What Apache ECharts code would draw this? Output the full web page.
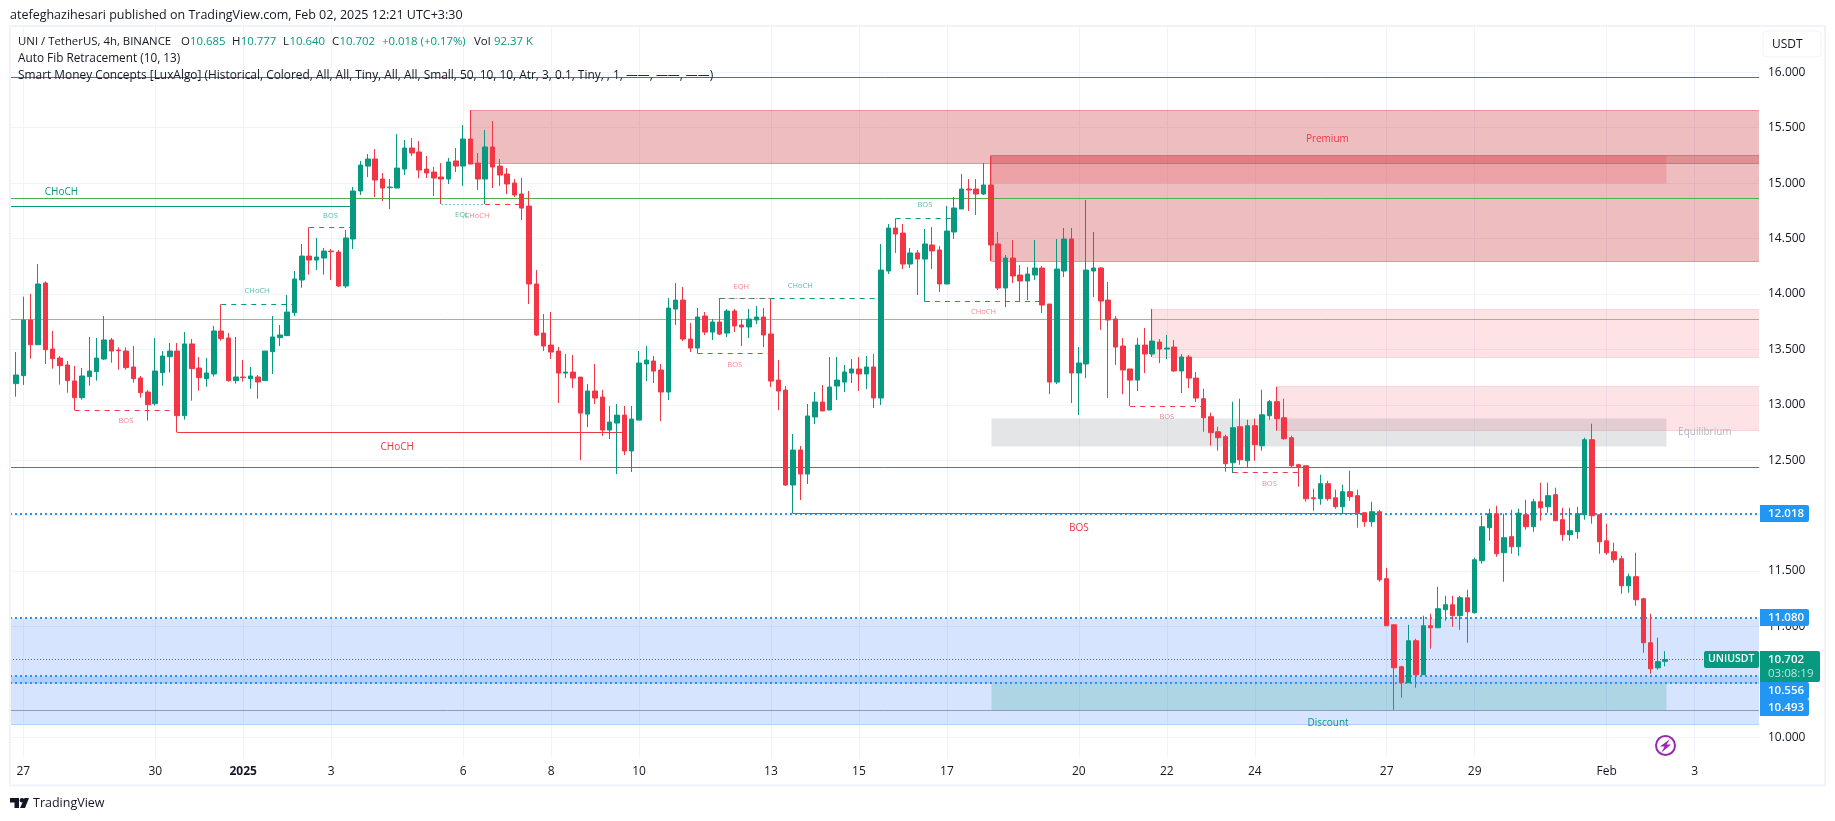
<!DOCTYPE html>
<html><head><meta charset="utf-8">
<style>html,body{margin:0;padding:0;background:#fff}#c{width:1835px;height:821px}</style>
<script src="https://cdn.jsdelivr.net/npm/echarts@6/dist/echarts.min.js"></script>
</head><body><div id="c"></div>
<script>
// Candle slot of the first candle (slot 0 = 27 Dec 00:00, 6 slots per day)
const firstSlot = -2;
const opens = [
12.893,13.191,13.263,13.765,13.542,14.099,13.503,13.422,13.359,13.215,
13.064,13.254,13.299,13.413,13.585,13.494,13.485,13.341,13.242,13.115,
13.010,13.290,13.434,13.485,12.902,13.549,13.332,13.236,13.278,13.666,
13.603,13.218,13.251,13.236,13.251,13.218,13.479,13.606,13.624,13.831,
14.126,14.342,14.306,14.324,14.387,14.378,14.072,14.496,14.929,15.154,
15.218,15.037,14.959,14.956,15.127,15.317,15.281,15.127,15.100,15.055,
15.037,15.200,15.154,15.398,15.181,15.037,15.326,15.154,15.082,15.001,
14.902,14.793,14.090,13.647,13.539,13.485,13.286,13.295,13.250,12.916,
13.124,13.070,12.772,12.835,12.907,12.583,12.862,13.368,13.395,13.314,
13.115,13.864,13.945,13.593,13.512,13.801,13.656,13.747,13.647,13.846,
13.720,13.702,13.765,13.792,13.639,13.223,13.133,12.276,12.592,12.375,
12.890,13.025,12.953,13.169,13.205,13.287,13.323,13.278,13.341,13.061,
14.207,14.595,14.550,14.270,14.370,14.315,14.442,14.397,14.090,14.559,
14.767,14.947,14.947,14.902,14.983,14.451,14.054,14.324,14.171,14.117,
14.171,14.234,13.909,13.205,14.207,14.496,13.287,13.368,14.207,14.234,
13.945,13.774,13.530,13.323,13.223,13.539,13.458,13.566,13.503,13.521,
13.305,13.431,13.241,13.055,12.892,12.757,12.712,12.477,12.802,12.495,
12.811,12.631,12.901,13.028,12.883,12.703,12.459,12.450,12.161,12.152,
12.288,12.161,12.080,12.216,12.180,12.026,11.945,12.035,11.431,11.015,
10.636,10.492,10.871,10.564,11.006,10.988,11.151,11.196,11.097,11.259,
11.124,11.593,11.891,12.017,11.665,11.810,11.719,12.008,11.900,12.125,
12.080,12.189,11.963,11.828,11.855,12.008,12.685,12.008,11.773,11.674,
11.611,11.367,11.449,11.250,10.853,10.627,10.685];
const closes = [
13.194,13.269,13.765,13.542,14.090,13.497,13.416,13.353,13.218,13.064,
13.260,13.305,13.422,13.585,13.485,13.488,13.335,13.236,13.109,13.001,
13.305,13.440,13.485,12.902,13.549,13.326,13.245,13.287,13.666,13.597,
13.218,13.251,13.245,13.260,13.206,13.485,13.612,13.630,13.837,14.135,
14.342,14.306,14.333,14.387,14.381,14.072,14.505,14.929,15.163,15.218,
15.028,14.956,14.965,15.136,15.317,15.272,15.118,15.091,15.046,15.037,
15.191,15.154,15.398,15.172,15.037,15.326,15.145,15.073,14.992,14.893,
14.775,14.090,13.629,13.530,13.476,13.286,13.295,13.241,12.925,13.124,
13.061,12.772,12.844,12.907,12.583,12.871,13.377,13.404,13.304,13.115,
13.873,13.945,13.593,13.512,13.792,13.656,13.747,13.638,13.846,13.711,
13.702,13.774,13.792,13.630,13.214,13.124,12.276,12.592,12.375,12.899,
13.025,12.944,13.160,13.223,13.296,13.323,13.278,13.341,13.061,14.216,
14.595,14.541,14.270,14.370,14.315,14.451,14.388,14.090,14.568,14.776,
14.947,14.938,14.902,14.983,14.442,14.054,14.324,14.162,14.117,14.180,
14.234,13.900,13.205,14.225,14.496,13.287,13.377,14.216,14.234,13.936,
13.765,13.521,13.314,13.223,13.539,13.458,13.575,13.503,13.512,13.305,
13.431,13.241,13.061,12.883,12.748,12.703,12.468,12.793,12.504,12.811,
12.640,12.910,13.028,12.874,12.694,12.450,12.441,12.152,12.152,12.288,
12.152,12.080,12.216,12.171,12.026,11.945,12.035,11.421,11.006,10.627,
10.492,10.871,10.564,11.006,10.988,11.160,11.196,11.097,11.259,11.133,
11.602,11.900,12.017,11.656,11.801,11.719,12.023,11.900,12.125,12.071,
12.180,11.954,11.828,11.864,12.017,12.685,11.999,11.764,11.665,11.602,
11.367,11.449,11.241,10.853,10.618,10.682,10.702];
const lows = [
12.893,13.073,13.179,13.416,13.542,13.368,13.326,13.182,13.109,12.953,
13.046,13.172,13.218,13.404,13.380,13.317,13.317,13.200,13.064,12.857,
12.992,13.172,13.290,12.751,12.866,13.037,13.127,13.163,13.254,13.579,
13.209,13.191,13.209,13.145,13.055,13.218,13.278,13.530,13.621,13.801,
14.056,14.174,14.216,14.174,14.126,14.062,14.053,14.405,14.893,15.055,
14.875,14.839,14.766,14.956,15.073,15.245,15.046,15.046,14.884,14.812,
14.992,15.100,14.974,15.172,14.938,14.812,14.956,14.974,14.902,14.875,
14.667,13.909,13.620,13.485,13.413,13.016,13.241,13.151,12.501,12.799,
13.007,12.718,12.691,12.375,12.546,12.393,12.862,13.214,13.196,12.853,
13.043,13.720,13.575,13.476,13.464,13.629,13.584,13.629,13.611,13.656,
13.530,13.602,13.729,13.521,13.160,12.953,12.267,12.020,12.141,12.285,
12.826,12.944,12.953,13.043,13.115,13.196,13.124,13.142,12.971,12.998,
14.180,14.370,14.225,14.234,13.991,13.930,14.225,14.018,14.090,14.496,
14.767,14.749,14.712,14.893,14.297,14.036,13.882,14.099,13.927,13.945,
14.126,13.828,13.097,13.187,14.153,13.016,12.908,13.241,13.972,13.675,
13.061,13.359,13.097,12.989,13.124,13.287,13.431,13.377,13.413,13.296,
13.106,13.151,13.025,12.757,12.631,12.586,12.396,12.384,12.459,12.432,
12.495,12.586,12.865,12.766,12.685,12.432,12.261,12.125,12.044,12.098,
12.134,12.062,12.017,12.134,11.891,11.900,11.900,11.403,11.006,10.248,
10.357,10.492,10.447,10.564,10.799,10.988,11.052,10.997,10.970,10.853,
11.115,11.566,11.773,11.629,11.403,11.656,11.638,11.873,11.855,11.954,
12.026,11.954,11.773,11.773,11.791,11.963,11.927,11.656,11.647,11.575,
11.295,11.304,11.187,10.763,10.573,10.609,10.640];
const highs = [
13.194,13.476,13.976,14.000,14.270,14.114,13.666,13.440,13.395,13.350,
13.332,13.612,13.603,13.801,13.603,13.518,13.518,13.530,13.260,13.133,
13.603,13.485,13.558,13.558,13.657,13.594,13.431,13.422,13.711,13.906,
13.648,13.612,13.404,13.341,13.269,13.485,13.801,13.720,13.991,14.207,
14.451,14.601,14.505,14.414,14.405,14.396,14.577,14.965,15.200,15.263,
15.308,15.091,15.037,15.443,15.389,15.407,15.380,15.245,15.145,15.181,
15.227,15.317,15.524,15.660,15.272,15.479,15.560,15.218,15.136,15.037,
15.046,14.929,14.216,13.819,13.837,13.521,13.458,13.449,13.250,13.187,
13.368,13.133,12.989,13.007,12.989,12.989,13.485,13.530,13.440,13.368,
13.963,14.099,14.063,13.738,13.873,13.837,13.774,13.963,13.864,13.864,
13.774,13.864,13.891,13.873,13.954,13.404,13.169,12.736,12.628,13.007,
13.115,13.178,13.431,13.431,13.359,13.413,13.431,13.440,13.458,14.451,
14.631,14.682,14.631,14.415,14.397,14.586,14.604,14.433,14.794,14.875,
15.082,15.037,15.037,15.182,15.250,14.559,14.351,14.487,14.261,14.243,
14.487,14.252,13.909,14.496,14.595,14.595,13.521,14.848,14.559,14.243,
14.108,13.801,13.602,13.323,13.602,13.693,13.864,13.593,13.630,13.584,
13.458,13.449,13.296,13.145,12.929,12.802,12.730,13.028,13.055,12.865,
12.874,13.136,13.043,13.163,13.055,12.721,12.468,12.450,12.243,12.369,
12.315,12.234,12.279,12.405,12.234,12.026,12.125,12.053,11.530,11.015,
10.645,11.015,10.889,11.097,11.115,11.358,11.277,11.277,11.277,11.331,
11.620,11.999,12.062,12.089,12.017,12.053,12.062,12.143,12.152,12.297,
12.297,12.252,12.071,12.071,12.080,12.703,12.829,12.008,11.927,11.755,
11.638,11.476,11.665,11.259,11.115,10.898,10.777];

// Axes
const priceTicks = [10,10.5,11,11.5,12,12.5,13,13.5,14,14.5,15,15.5,16];
const timeTickSlots = [0,18,30,42,60,72,84,102,114,126,144,156,168,186,198,216,228];
const timeTickLabels = ['27','30','2025','3','6','8','10','13','15','17','20','22','24','27','29','Feb','3'];
const slotMin = -1.8145, slotMax = 236.79, priceMin = 9.8175, priceMax = 16.4178;

// Zones: [fromSlot, toSlot, topPrice, bottomPrice]
const premiumZones = [[61,slotMax,15.66,15.179],[132,slotMax,15.25,14.30]];
const orderBlockZones = [[132,224.1,15.25,15.0]];
const lightSupplyZones = [[154,slotMax,13.864,13.434],[171,slotMax,13.17,12.77]];
const equilibriumZones = [[132,224.1,12.881,12.628]];
const fibBlueZones = [[slotMin,slotMax,11.08,10.12],[slotMin,slotMax,10.556,10.493]];
const discountZones = [[132,224.1,10.493,10.25]];

// Horizontal levels: [fromSlot, toSlot, price]
const tealFibLevels = [[slotMin,slotMax,15.955]];
const greenFibLevels = [[slotMin,slotMax,14.863]];
const lightGreenFibLevels = [[slotMin,slotMax,13.777]];
const redFibLevels = [[slotMin,slotMax,12.435]];
const discountEdgeLevels = [[slotMin,slotMax,10.25]];
const blueEdgeLevels = [[slotMin,slotMax,10.12]];
const blueDottedLevels = [[slotMin,slotMax,12.018],[slotMin,slotMax,11.08],[slotMin,slotMax,10.556],[slotMin,slotMax,10.493]];
const lastPriceLevels = [[slotMin,slotMax,10.702]];
const tealSolidBreaks = [[slotMin,45,14.79]];
const redSolidBreaks = [[21,82,12.752],[105,183,12.02]];
const redDashedBreaks = [[7,21,12.95],[63,68,14.81],[92,102,13.464],[123,139,13.934],[151,161,12.987],[165,175,12.39]];
const tealDashedBreaks = [[27,37,13.907],[39,45,14.60],[95,117,13.96],[119,127,14.683]];
const paleTealEqualLevels = [[57,63,14.815]];
const paleRedEqualLevels = [[95,102,13.965]];

// Text annotations
const bigRedTexts = ['CHoCH','BOS','Premium'];
const bigRedSpots = [[51,12.616],[144,11.891],[177.9,15.398]];
const bigTealTexts = ['CHoCH','Discount'];
const bigTealSpots = [[5.2,14.923],[178,10.129]];
const smallRedTexts = ['BOS','CHoCH','EQH','BOS','CHoCH','BOS','BOS'];
const smallRedSpots = [[14,12.851],[61.9,14.706],[97.95,14.060],[97.05,13.356],[131,13.835],[156,12.887],[170,12.283]];
const smallTealTexts = ['CHoCH','BOS','EQL','CHoCH','BOS'];
const smallTealSpots = [[31.9,14.024],[41.9,14.706],[59.85,14.715],[106,14.069],[123,14.800]];

// Price tags on the right
const tagPrices = [12.018,11.08,10.556,10.493];
const tagShifts = [0,0,15,24.7];
const lastPrice = 10.702, lastCountdown = '03:08:19', symbolName = 'UNIUSDT';

const FONT = '"Open Sans","Noto Sans",Roboto,sans-serif';
const TEAL='#089981', RED='#f23645', BLUE='#2196f3', INK='#131722';

const candleRows = opens.map((o,k)=>[k+firstSlot,o,closes[k],lows[k],highs[k]]);

function zoneSeries(rows, fill, stroke, z){
  return {type:'custom', coordinateSystem:'cartesian2d', z, clip:true, silent:true, data:rows,
    encode:{x:[0,1],y:[2,3]},
    renderItem(params,api){
      const a=api.coord([api.value(0),api.value(2)]), b=api.coord([api.value(1),api.value(3)]);
      const x=Math.round(a[0]), y=Math.round(a[1]);
      return {type:'rect', shape:{x:x+.5,y:y+.5,width:Math.round(b[0])-x,height:Math.round(b[1])-y},
        style:{fill,stroke:stroke||null,lineWidth:1}};
    }};
}
function levelSeries(rows, color, width, dash, z){
  return {type:'custom', coordinateSystem:'cartesian2d', z:z||3, clip:true, silent:true, data:rows,
    encode:{x:[0,1],y:2},
    renderItem(params,api){
      const a=api.coord([api.value(0),api.value(2)]), b=api.coord([api.value(1),api.value(2)]);
      const off = width%2 ? .5 : 0;
      const y=Math.round(a[1])+off;
      return {type:'line', shape:{x1:a[0],y1:y,x2:b[0],y2:y},
        style:{stroke:color,lineWidth:width,lineDash:dash||null,fill:null}};
    }};
}
function textSeries(spots,texts,color,size,opacity,weight){
  return {type:'custom', coordinateSystem:'cartesian2d', z:4, silent:true, data:spots,
    encode:{x:0,y:1},
    renderItem(params,api){
      const p=api.coord([api.value(0),api.value(1)]);
      return {type:'text', x:p[0], y:p[1], style:{text:texts[params.dataIndex], fill:color, opacity,
        font:(weight||'normal')+' '+size+'px '+FONT, textAlign:'center', textVerticalAlign:'middle'}};
    }};
}

const tagSeries = {type:'custom', coordinateSystem:'cartesian2d', z:30, clip:false, silent:true,
  data:tagPrices.map((p,k)=>[0,p,tagShifts[k]]), encode:{x:0,y:1},
  renderItem(params,api){
    const right=params.coordSys.x+params.coordSys.width;
    const y=api.coord([0,api.value(1)])[1]+api.value(2);
    const top=Math.round(y-8.5);
    return {type:'group',children:[
      {type:'rect',shape:{x:right+1,y:top,width:49,height:17,r:[0,2,2,0]},style:{fill:BLUE}},
      {type:'text',x:right+9,y:y+.5,style:{text:api.value(1).toFixed(3),fill:'#fff',font:'600 11.5px '+FONT,textVerticalAlign:'middle'}}
    ]};
  }};
const lastTagSeries = {type:'custom', coordinateSystem:'cartesian2d', z:31, clip:false, silent:true,
  data:[[0,lastPrice]], encode:{x:0,y:1},
  renderItem(params,api){
    const right=params.coordSys.x+params.coordSys.width;
    const y=api.coord([0,api.value(1)])[1];
    const top=Math.round(y-8.5);
    return {type:'group',children:[
      {type:'rect',shape:{x:right-55,y:top,width:55,height:17,r:2},style:{fill:TEAL}},
      {type:'text',x:right-51,y:y,style:{text:symbolName,fill:'#fff',font:'600 10.5px '+FONT,textVerticalAlign:'middle'}},
      {type:'rect',shape:{x:right+1,y:top,width:60,height:31,r:[0,2,2,0]},style:{fill:TEAL}},
      {type:'text',x:right+9,y:y,style:{text:lastPrice.toFixed(3),fill:'#fff',font:'600 11.5px '+FONT,textVerticalAlign:'middle'}},
      {type:'text',x:right+9,y:y+14.5,style:{text:lastCountdown,fill:'rgba(255,255,255,.72)',font:'11.5px '+FONT,textVerticalAlign:'middle'}}
    ]};
  }};

const txt=(x,y,s,fill,size,weight)=>({type:'text',x,y,z:40,silent:true,style:{text:s,fill:fill||INK,font:(weight||'normal')+' '+(size||12)+'px '+FONT,textVerticalAlign:'middle'}});
const legendY=41.5;
const graphics=[
  {type:'rect',z:20,silent:true,shape:{x:0,y:26,width:9,height:733},style:{fill:'#fff'}},
  {type:'rect',z:21,silent:true,shape:{x:10,y:26,width:1815,height:759.5},style:{fill:null,stroke:'#f0f3fa',lineWidth:2}},
  txt(10,15,'atefeghazihesari published on TradingView.com, Feb 02, 2025 12:21 UTC+3:30',INK,12.5),
  txt(18,legendY,'UNI / TetherUS, 4h, BINANCE',INK,11.4),
  txt(181,legendY,'O',INK,11.4),txt(190,legendY,'10.685',TEAL,11.4),
  txt(232,legendY,'H',INK,11.4),txt(240.7,legendY,'10.777',TEAL,11.4),
  txt(283,legendY,'L',INK,11.4),txt(289.5,legendY,'10.640',TEAL,11.4),
  txt(332,legendY,'C',INK,11.4),txt(339.5,legendY,'10.702',TEAL,11.4),
  txt(382,legendY,'+0.018 (+0.17%)',TEAL,11.4),
  txt(474,legendY,'Vol',INK,11.4),txt(494,legendY,'92.37 K',TEAL,11.4),
  txt(18,59,'Auto Fib Retracement (10, 13)',INK,11.8),
  txt(18,76,'Smart Money Concepts [LuxAlgo] (Historical, Colored, All, All, Tiny, All, All, Small, 50, 10, 10, Atr, 3, 0.1, Tiny, , 1, ——, ——, ——)',INK,11.9),
  {type:'rect',z:40,silent:true,shape:{x:1763,y:31,width:58,height:26,r:4},style:{fill:'#fff',stroke:'#f0f3fa',lineWidth:1}},
  txt(1772,44.5,'USDT'),
  {type:'circle',z:40,silent:true,shape:{cx:1665.5,cy:745.5,r:9.5},style:{fill:'#fff',stroke:'#9c27b0',lineWidth:2}},
  {type:'polygon',z:41,silent:true,shape:{points:[[1670,739],[1660,746.5],[1664.5,746.5],[1661.5,752.5],[1671,744.5],[1666.5,744.5]]},style:{fill:'#9c27b0'}},
  {type:'polygon',z:40,silent:true,shape:{points:[[10,798],[19,798],[19,808],[14.5,808],[14.5,802.5],[10,802.5]]},style:{fill:INK}},
  {type:'circle',z:40,silent:true,shape:{cx:22,cy:800.3,r:2.3},style:{fill:INK}},
  {type:'polygon',z:40,silent:true,shape:{points:[[24.5,798],[29,798],[25,808],[20,808]]},style:{fill:INK}},
  txt(33,803.5,'TradingView',INK,12.5)
];

const chart=echarts.init(document.getElementById('c'),null,{renderer:'canvas',width:1835,height:821});
chart.setOption({
  animation:false, backgroundColor:'#fff', textStyle:{fontFamily:FONT},
  grid:{left:10,top:26,width:1749,height:731.5,containLabel:false},
  xAxis:{type:'value',min:slotMin,max:slotMax,
    axisLine:{show:false},
    axisTick:{show:false,customValues:timeTickSlots},
    splitLine:{show:true,lineStyle:{color:'#f0f3fa',width:1}},
    axisLabel:{customValues:timeTickSlots,color:INK,fontSize:12,fontFamily:FONT,margin:8,
      formatter:v=>{const t=timeTickLabels[timeTickSlots.indexOf(v)];return t==='2025'?'{b|2025}':t;},
      rich:{b:{fontWeight:'bold',fontSize:12,fontFamily:FONT,color:INK}}}},
  yAxis:{type:'value',position:'right',min:priceMin,max:priceMax,scale:true,
    axisLine:{show:false},
    axisTick:{show:false,customValues:priceTicks},
    splitLine:{show:true,lineStyle:{color:'#f0f3fa',width:1}},
    axisLabel:{customValues:priceTicks,color:INK,fontSize:12,fontFamily:FONT,margin:9,formatter:v=>v.toFixed(3)}},
  graphic:graphics,
  series:[
    zoneSeries(fibBlueZones,'rgba(27,105,244,.18)',null,1),
    zoneSeries(premiumZones,'rgba(195,35,48,.3)','rgba(215,40,55,.42)',1),
    zoneSeries(orderBlockZones,'rgba(242,54,69,.2)',null,1),
    zoneSeries(lightSupplyZones,'rgba(242,54,69,.14)','rgba(242,54,69,.16)',1),
    zoneSeries(equilibriumZones,'rgba(120,123,134,.2)',null,1),
    zoneSeries(discountZones,'rgba(8,153,129,.2)',null,1),
    levelSeries(blueEdgeLevels,'#b2d0fb',1),
    levelSeries(discountEdgeLevels,'#8c9bc3',1),
    levelSeries(tealFibLevels,TEAL,1),
    levelSeries(greenFibLevels,'#4caf50',1),
    levelSeries(lightGreenFibLevels,'#81c784',1),
    levelSeries(redFibLevels,RED,1),
    levelSeries(blueDottedLevels,BLUE,2,[2,3]),
    levelSeries(lastPriceLevels,TEAL,1,[1,2]),
    levelSeries(tealSolidBreaks,TEAL,1),
    levelSeries(redSolidBreaks,RED,1),
    levelSeries(redDashedBreaks,RED,1,[5,5]),
    levelSeries(tealDashedBreaks,TEAL,1,[5,5]),
    levelSeries(paleTealEqualLevels,'rgba(8,153,129,.55)',1,[2,2]),
    levelSeries(paleRedEqualLevels,'rgba(242,54,69,.5)',1,[2,2]),
    textSeries(bigRedSpots,bigRedTexts,RED,10,1),
    textSeries(bigTealSpots,bigTealTexts,TEAL,10,1),
    textSeries(smallRedSpots,smallRedTexts,RED,7.5,.62),
    textSeries(smallTealSpots,smallTealTexts,TEAL,7.5,.68),
    textSeries([[229.4,12.755]],['Equilibrium'],'#b2b5be',10,1),
    {type:'candlestick',z:5,clip:true,silent:true,barWidth:5,data:candleRows,encode:{x:0,y:[1,2,3,4]},
      itemStyle:{color:TEAL,color0:RED,borderColor:TEAL,borderColor0:RED,borderWidth:1}},
    tagSeries,lastTagSeries
  ]
});
</script></body></html>
